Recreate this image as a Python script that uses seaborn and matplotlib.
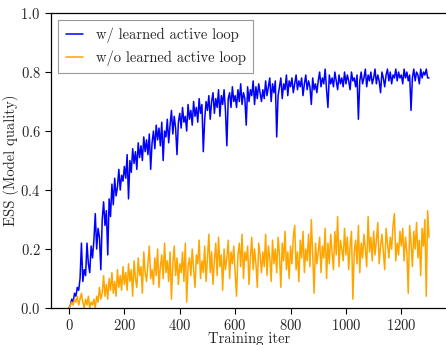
import numpy as np
import pandas as pd
import matplotlib
matplotlib.use("Agg")
import matplotlib.pyplot as plt
import seaborn as sns

# iteration index, one reading every 5 iters
iters = np.arange(0, 1305, 5)

# ESS, rows of 100 iters
ess_with = [
    0.00, 0.01, 0.03, 0.02, 0.05, 0.04, 0.07, 0.06, 0.10, 0.22, 0.09, 0.13, 0.11, 0.22, 0.15, 0.12, 0.21, 0.17, 0.23, 0.32,
    0.20, 0.27, 0.24, 0.13, 0.30, 0.36, 0.28, 0.33, 0.18, 0.37, 0.31, 0.42, 0.35, 0.44, 0.38, 0.41, 0.47, 0.40, 0.45, 0.43,
    0.48, 0.44, 0.52, 0.37, 0.50, 0.46, 0.54, 0.49, 0.53, 0.47, 0.56, 0.51, 0.55, 0.50, 0.58, 0.53, 0.57, 0.52, 0.59, 0.47,
    0.56, 0.60, 0.54, 0.62, 0.57, 0.61, 0.55, 0.63, 0.50, 0.60, 0.58, 0.64, 0.56, 0.62, 0.67, 0.59, 0.65, 0.61, 0.52, 0.63,
    0.66, 0.61, 0.68, 0.63, 0.65, 0.60, 0.69, 0.64, 0.67, 0.62, 0.70, 0.65, 0.68, 0.63, 0.71, 0.66, 0.69, 0.53, 0.64, 0.70,
    0.67, 0.72, 0.64, 0.70, 0.73, 0.66, 0.71, 0.68, 0.74, 0.65, 0.72, 0.69, 0.74, 0.67, 0.55, 0.71, 0.73, 0.68, 0.75, 0.70,
    0.72, 0.68, 0.74, 0.70, 0.76, 0.69, 0.73, 0.71, 0.62, 0.75, 0.70, 0.74, 0.72, 0.77, 0.69, 0.75, 0.71, 0.76, 0.73, 0.70,
    0.74, 0.71, 0.77, 0.72, 0.75, 0.78, 0.70, 0.76, 0.73, 0.77, 0.58, 0.72, 0.75, 0.78, 0.71, 0.76, 0.74, 0.79, 0.72, 0.77,
    0.75, 0.78, 0.73, 0.76, 0.79, 0.74, 0.77, 0.75, 0.78, 0.72, 0.76, 0.79, 0.74, 0.77, 0.75, 0.69, 0.78, 0.74, 0.76, 0.73,
    0.77, 0.80, 0.75, 0.78, 0.76, 0.81, 0.74, 0.68, 0.79, 0.76, 0.78, 0.75, 0.80, 0.77, 0.74, 0.79, 0.76, 0.78, 0.75, 0.80,
    0.76, 0.79, 0.77, 0.74, 0.80, 0.77, 0.78, 0.75, 0.79, 0.64, 0.77, 0.80, 0.76, 0.78, 0.81, 0.75, 0.79, 0.77, 0.80, 0.76,
    0.78, 0.81, 0.76, 0.79, 0.77, 0.73, 0.80, 0.78, 0.75, 0.79, 0.81, 0.77, 0.80, 0.76, 0.79, 0.78, 0.81, 0.77, 0.80, 0.78,
    0.79, 0.76, 0.81, 0.78, 0.80, 0.77, 0.79, 0.67, 0.78, 0.81, 0.77, 0.80, 0.79, 0.76, 0.81, 0.78, 0.80, 0.79, 0.81, 0.78,
    0.78,
]

ess_without = [
    0.00, 0.01, 0.02, 0.01, 0.03, 0.02, 0.04, 0.01, 0.03, 0.05, 0.02, 0.00, 0.03, 0.01, 0.04, 0.00, 0.02, 0.01, 0.03, 0.00,
    0.04, 0.02, 0.07, 0.03, 0.05, 0.11, 0.04, 0.08, 0.03, 0.10, 0.06, 0.12, 0.05, 0.09, 0.04, 0.13, 0.07, 0.11, 0.06, 0.14,
    0.08, 0.12, 0.06, 0.15, 0.09, 0.13, 0.04, 0.16, 0.10, 0.07, 0.17, 0.11, 0.14, 0.05, 0.19, 0.12, 0.09, 0.15, 0.21, 0.10,
    0.13, 0.08, 0.17, 0.11, 0.20, 0.07, 0.14, 0.18, 0.10, 0.22, 0.12, 0.16, 0.09, 0.19, 0.03, 0.15, 0.21, 0.11, 0.17, 0.08,
    0.15, 0.12, 0.19, 0.09, 0.22, 0.02, 0.14, 0.17, 0.11, 0.20, 0.13, 0.07, 0.18, 0.15, 0.23, 0.10, 0.16, 0.12, 0.21, 0.09,
    0.17, 0.25, 0.12, 0.19, 0.08, 0.16, 0.22, 0.11, 0.24, 0.14, 0.18, 0.06, 0.20, 0.13, 0.17, 0.23, 0.10, 0.19, 0.15, 0.21,
    0.12, 0.04, 0.18, 0.22, 0.14, 0.25, 0.10, 0.19, 0.16, 0.21, 0.08, 0.17, 0.24, 0.13, 0.20, 0.15, 0.07, 0.22, 0.18, 0.12,
    0.19, 0.14, 0.25, 0.11, 0.21, 0.17, 0.09, 0.23, 0.15, 0.20, 0.12, 0.24, 0.18, 0.07, 0.22, 0.16, 0.26, 0.13, 0.19, 0.10,
    0.21, 0.15, 0.24, 0.28, 0.13, 0.19, 0.09, 0.23, 0.17, 0.26, 0.12, 0.20, 0.16, 0.25, 0.14, 0.30, 0.18, 0.05, 0.22, 0.15,
    0.19, 0.24, 0.12, 0.21, 0.17, 0.27, 0.10, 0.22, 0.15, 0.25, 0.19, 0.13, 0.26, 0.18, 0.31, 0.14, 0.23, 0.20, 0.16, 0.27,
    0.18, 0.24, 0.13, 0.21, 0.26, 0.03, 0.19, 0.23, 0.15, 0.28, 0.12, 0.22, 0.17, 0.25, 0.20, 0.14, 0.31, 0.19, 0.24, 0.16,
    0.26, 0.18, 0.23, 0.29, 0.15, 0.21, 0.25, 0.19, 0.13, 0.27, 0.22, 0.17, 0.24, 0.20, 0.28, 0.32, 0.16, 0.22, 0.18, 0.26,
    0.21, 0.27, 0.16, 0.24, 0.19, 0.05, 0.28, 0.22, 0.14, 0.26, 0.20, 0.29, 0.17, 0.23, 0.11, 0.27, 0.21, 0.30, 0.04, 0.33,
    0.24,
]

labels = ["w/ learned active loop", "w/o learned active loop"]
colors = {labels[0]: "#0000ff", labels[1]: "#ffa500"}

df = pd.concat([
    pd.DataFrame({"iter": iters, "ess": ess_with, "method": labels[0]}),
    pd.DataFrame({"iter": iters, "ess": ess_without, "method": labels[1]}),
])

sns.set_style("ticks")
plt.rcParams["font.family"] = ["cmr10", "DejaVu Serif"]
plt.rcParams["mathtext.fontset"] = "cm"
plt.rcParams["axes.formatter.use_mathtext"] = True
plt.rcParams["axes.unicode_minus"] = False

fig = plt.figure(figsize=(4.46, 3.45), dpi=100)
ax = fig.add_axes([0.1143, 0.1072, 0.888, 0.855])

sns.lineplot(data=df, x="iter", y="ess", hue="method", palette=colors,
             hue_order=labels, linewidth=1.1, errorbar=None, ax=ax)

ax.set_ylim(0, 1.0)
ax.set_xticks([0, 200, 400, 600, 800, 1000, 1200])
ax.set_yticks([0.0, 0.2, 0.4, 0.6, 0.8, 1.0])
ax.tick_params(labelsize=10.5, length=4, width=0.8, color="black")
ax.set_xlabel("Training iter", fontsize=10.5, labelpad=-1)
ax.set_ylabel("ESS (Model quality)", fontsize=10.5, labelpad=1)
for s in ax.spines.values():
    s.set_color("black")
    s.set_linewidth(0.9)

leg = ax.legend(loc="upper left", fontsize=10.5, fancybox=False,
                edgecolor="#999999", framealpha=1.0, handlelength=1.2,
                handletextpad=0.9, borderpad=0.5, labelspacing=0.5)
leg.get_frame().set_linewidth(0.8)

fig.savefig("out.png", dpi=100)
